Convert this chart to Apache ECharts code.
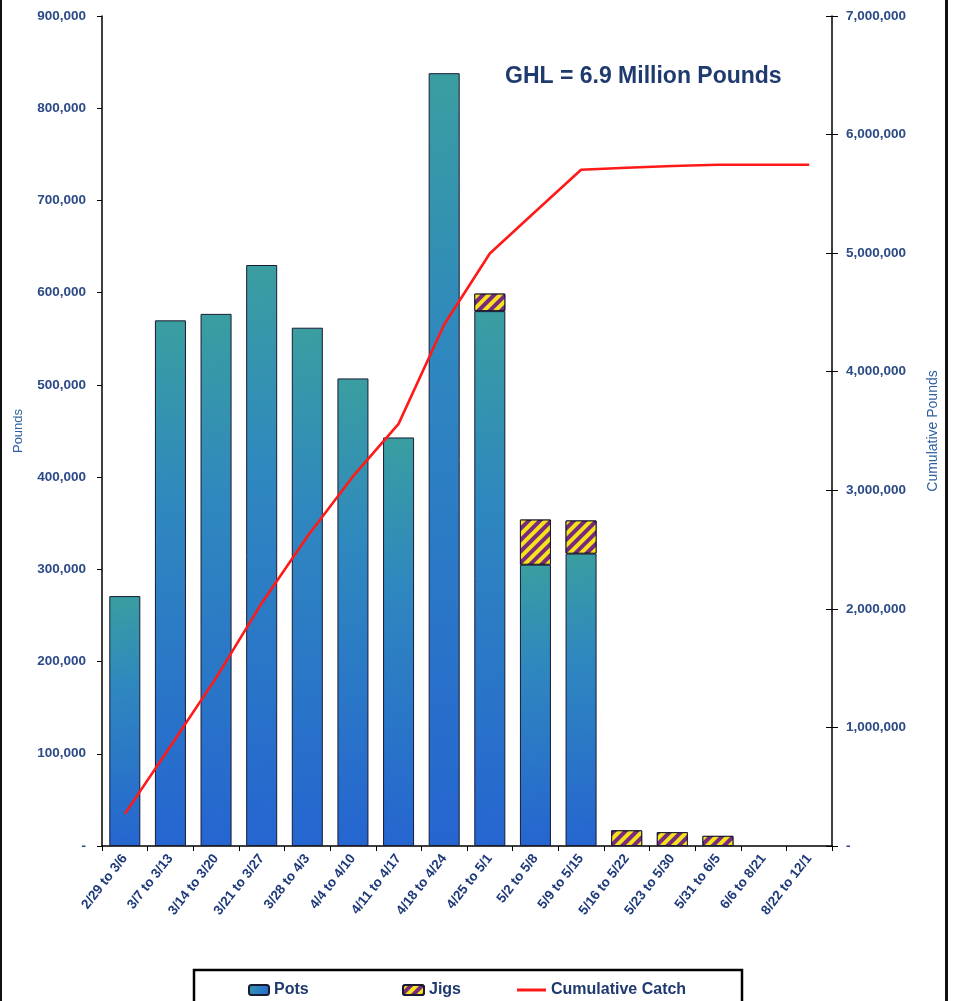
<!DOCTYPE html>
<html>
<head>
<meta charset="utf-8">
<script src="https://cdn.jsdelivr.net/npm/echarts@6/dist/echarts.min.js"></script>
<style>
  html, body { margin: 0; padding: 0; background: #ffffff; }
  #chart { width: 954px; height: 1001px; }
</style>
</head>
<body>
<div id="chart"></div>
<script>
// Weekly catch by gear type and the running season total
const weeks = ['2/29 to 3/6', '3/7 to 3/13', '3/14 to 3/20', '3/21 to 3/27', '3/28 to 4/3',
  '4/4 to 4/10', '4/11 to 4/17', '4/18 to 4/24', '4/25 to 5/1', '5/2 to 5/8', '5/9 to 5/15',
  '5/16 to 5/22', '5/23 to 5/30', '5/31 to 6/5', '6/6 to 8/21', '8/22 to 12/1'];
const pots = [271000, 570000, 577000, 630000, 562000, 507000, 443000, 838000, 580000, 305000, 317000,
  null, null, null, null, null];
const jigs = [null, null, null, null, null, null, null, null, 19000, 49000, 36000,
  17000, 15000, 11000, null, null];
const cumulative = [271000, 841000, 1418000, 2048000, 2610000, 3117000, 3560000, 4398000, 4997000,
  5351000, 5703000, 5720000, 5735000, 5746000, 5746000, 5746000];
const headline = 'GHL = 6.9 Million Pounds';

const navy = '#2b4a86';
const font = 'Liberation Sans, Arial, sans-serif';
const fmt = v => v === 0 ? '-' : v.toLocaleString('en-US');

const chart = echarts.init(document.getElementById('chart'), null, { renderer: 'canvas' });

const legendText = { color: '#1f3a6e', fontSize: 16, fontWeight: 'bold', fontFamily: font };

chart.setOption({
  backgroundColor: '#ffffff',
  animation: false,
  textStyle: { fontFamily: font },
  grid: { left: 102, right: 122, top: 16, bottom: 155 },
  title: {
    text: headline, left: 500, top: 60,
    textStyle: { color: '#1f3a6e', fontSize: 23, fontWeight: 'bold', fontFamily: font }
  },
  legend: [
    { data: ['Pots'], left: 243, top: 977, itemWidth: 20, itemHeight: 10, itemGap: 4, textStyle: legendText },
    { data: ['Jigs'], left: 397, top: 977, itemWidth: 21, itemHeight: 10, itemGap: 4, textStyle: legendText },
    { data: [{ name: 'Cumulative Catch', icon: 'rect' }], left: 512, top: 977,
      itemWidth: 29, itemHeight: 3, itemGap: 5, textStyle: legendText }
  ],
  xAxis: {
    type: 'category', data: weeks,
    axisLine: { lineStyle: { color: '#000', width: 1.5 } },
    axisTick: { show: true, length: 5, lineStyle: { color: '#000' } },
    axisLabel: { rotate: 52, margin: 10, color: '#1f3a7a', fontSize: 13.5, fontWeight: 'bold', interval: 0 }
  },
  yAxis: [
    {
      type: 'value', min: 0, max: 900000, interval: 100000, name: 'Pounds',
      nameLocation: 'middle', nameGap: 77, nameRotate: 90,
      nameTextStyle: { color: '#2f5fa0', fontSize: 13 },
      splitLine: { show: false },
      axisLine: { show: true, lineStyle: { color: '#000', width: 1.5 } },
      axisTick: { show: true, length: 5, lineStyle: { color: '#000' } },
      axisLabel: { color: navy, fontSize: 13.5, fontWeight: 'bold', margin: 16, formatter: fmt }
    },
    {
      type: 'value', min: 0, max: 7000000, interval: 1000000, name: 'Cumulative Pounds',
      position: 'right', nameLocation: 'middle', nameGap: 94, nameRotate: 90,
      nameTextStyle: { color: '#2f5fa0', fontSize: 14 },
      splitLine: { show: false },
      axisLine: { show: true, lineStyle: { color: '#000', width: 1.5 } },
      axisTick: { show: true, length: 6, lineStyle: { color: '#000' } },
      axisLabel: { color: navy, fontSize: 13.5, fontWeight: 'bold', margin: 14, formatter: fmt }
    },
    {
      type: 'value', min: 0, max: 7000000, interval: 1000000, position: 'right',
      splitLine: { show: false },
      axisLine: { show: false },
      axisTick: { show: true, inside: true, length: 6, lineStyle: { color: '#000' } },
      axisLabel: { show: false }
    }
  ],
  series: [
    {
      name: 'Pots', type: 'bar', stack: 'catch', data: pots, barCategoryGap: '32%',
      itemStyle: {
        color: new echarts.graphic.LinearGradient(0, 0, 1, 1, [
          { offset: 0, color: '#3a9ea0' },
          { offset: 0.35, color: '#2f88be' },
          { offset: 1, color: '#2565d0' }
        ]),
        borderColor: '#1a1a33', borderWidth: 1
      }
    },
    {
      name: 'Jigs', type: 'bar', stack: 'catch', data: jigs,
      itemStyle: {
        color: '#7a2a7c', borderColor: '#1a1a33', borderWidth: 1,
        decal: {
          symbol: 'rect', symbolSize: 1, color: '#f4e41c',
          dashArrayX: [1, 0], dashArrayY: [4, 4], rotation: -Math.PI / 4
        }
      }
    },
    {
      name: 'Cumulative Catch', type: 'line', yAxisIndex: 1, data: cumulative,
      symbol: 'none', lineStyle: { color: '#ff1a1a', width: 2.6 }, itemStyle: { color: '#ff1a1a' }
    }
  ],
  graphic: [
    { type: 'rect', shape: { x: 0, y: 0, width: 2, height: 1001 }, style: { fill: '#111' } },
    { type: 'rect', shape: { x: 945, y: 0, width: 3, height: 1001 }, style: { fill: '#111' } },
    { type: 'rect', shape: { x: 194, y: 970, width: 548, height: 40 },
      style: { fill: 'none', stroke: '#000', lineWidth: 2.5 }, z: 10 }
  ]
});
</script>
</body>
</html>
